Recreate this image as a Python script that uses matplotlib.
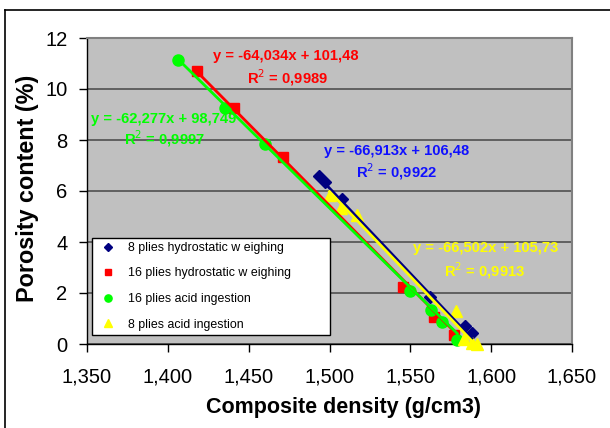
import numpy as np
import matplotlib
matplotlib.use("Agg")
import matplotlib.pyplot as plt
from matplotlib import ticker
from matplotlib.lines import Line2D

plt.rcParams['font.family'] = ['Liberation Sans', 'DejaVu Sans']

# data (density g/cm3, porosity %)
blue_x = [1.4938, 1.497, 1.508, 1.562, 1.584, 1.588]
blue_y = [6.6, 6.35, 5.7, 1.85, 0.7, 0.45]
red_x = [1.418, 1.4407, 1.471, 1.5457, 1.5648, 1.577]
red_y = [10.7, 9.25, 7.33, 2.24, 1.06, 0.35]
green_x = [1.4062, 1.4352, 1.4599, 1.55, 1.563, 1.5698, 1.579]
green_y = [11.15, 9.25, 7.84, 2.08, 1.33, 0.86, 0.16]
yellow_x = [1.5, 1.507, 1.517, 1.578, 1.583, 1.588, 1.591]
yellow_y = [5.85, 5.35, 5.05, 1.3, 0.2, 0.05, 0.0]

labels = ["8 plies hydrostatic w eighing", "16 plies hydrostatic w eighing",
          "16 plies acid ingestion", "8 plies acid ingestion"]

# trendline coefficients (slope, intercept, R2)
fits = [(-66.913, 106.48, 0.9922), (-64.034, 101.48, 0.9989),
        (-62.277, 98.749, 0.9997), (-66.502, 105.73, 0.9913)]

navy = '#000080'
red = '#ff0000'
green = '#00ff00'
yellow = '#ffff00'
text_colors = ['#1010ff', red, green, yellow]

series = [(blue_x, blue_y, navy, 'D', 6.5),
          (red_x, red_y, red, 's', 7.5),
          (green_x, green_y, green, 'o', 8),
          (yellow_x, yellow_y, yellow, '^', 8.5)]

fig = plt.figure(figsize=(6.1, 4.28), dpi=100)
ax = fig.add_axes([87/610, 1 - 344/428, (572-87)/610, (344-38)/428])
ax.set_facecolor('#c0c0c0')

for (xs, ys, c, m, ms), lab in zip(series, labels):
    ax.plot(xs, ys, ls='none', marker=m, color=c, ms=ms, mec=c,
            label=lab, clip_on=False, zorder=3)

for (xs, ys, c, m, ms), (a, b, r2) in zip(series, fits):
    xx = np.array([min(xs), max(xs)])
    ax.plot(xx, a*xx + b, color=c, lw=2, zorder=4, clip_on=False)

ax.set_xlim(1.35, 1.65)
ax.set_ylim(0, 12)
ax.xaxis.set_major_locator(ticker.MultipleLocator(0.05))
ax.yaxis.set_major_locator(ticker.MultipleLocator(2))
ax.xaxis.set_major_formatter(ticker.FuncFormatter(lambda v, p: ("%.3f" % v).replace('.', ',')))
ax.yaxis.grid(True, color='#505050', lw=1.2)
ax.set_axisbelow(True)
ax.tick_params(axis='both', labelsize=14.5, length=6, width=1, direction='out', color='black', pad=8)
ax.tick_params(axis='x', pad=11)

for s in ['top', 'right']:
    ax.spines[s].set_color('#808080')
    ax.spines[s].set_linewidth(1.5)
for s in ['left', 'bottom']:
    ax.spines[s].set_color('black')
    ax.spines[s].set_linewidth(1)

ax.set_xlabel('Composite density (g/cm3)', fontsize=15.5, fontweight='bold', va='center')
ax.xaxis.set_label_coords((344-87)/485, -(408-344)/306)
ax.set_ylabel('Porosity content (%)', fontsize=16.8, fontweight='bold', va='center')
ax.yaxis.set_label_coords(-(87-28)/485, 0.51)

# trendline equation labels
eq_pos = [(397, 151, 397, 172), (286, 56, 288, 78), (164, 119, 165, 139), (486, 248, 485, 271)]
for (a, b, r2), c, (ex, ey, rx, ry) in zip(fits, text_colors, eq_pos):
    fmt = lambda v, n: ("%.*f" % (n, v)).replace('.', ',')
    nb = 3 if abs(b) < 100 else 2
    eq = "y = %sx + %s" % (fmt(a, 3), fmt(b, nb))
    fig.text(ex/610, 1 - ey/428, eq, color=c, fontsize=10.6, fontweight='bold', ha='center', va='center')
    fig.text(rx/610, 1 - ry/428, "R$^{2}$ = %s" % fmt(r2, 4), color=c, fontsize=10.6,
             fontweight='bold', ha='center', va='center')

leg = ax.legend(loc='lower left', bbox_to_anchor=((92-87)/485, (344-335)/306, (330-92)/485, (335-235)/306),
                mode='expand', fontsize=8.9, frameon=True, fancybox=False, borderaxespad=0,
                borderpad=0.35, handletextpad=0.7, labelspacing=1.1, markerscale=0.65, handlelength=1.9)
leg.get_frame().set_edgecolor('black')
leg.get_frame().set_linewidth(1)
leg.get_frame().set_facecolor('white')
leg.get_frame().set_alpha(1)

# outer chart border (top and left visible)
fig.add_artist(Line2D([5/610, 1], [1 - 9.5/428, 1 - 9.5/428], color='black', lw=1.2))
fig.add_artist(Line2D([5/610, 5/610], [0, 1 - 9.5/428], color='black', lw=1.2))

fig.savefig('out.png', dpi=100)
